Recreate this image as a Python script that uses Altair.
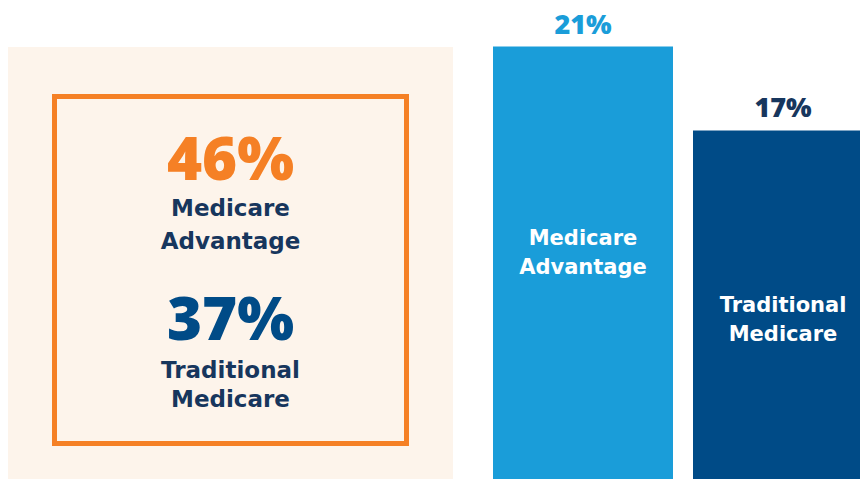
import altair as alt
import pandas as pd

# ---- data ----
groups = ["Medicare Advantage", "Traditional Medicare"]
box_share = [46, 37]          # left highlighted panel
bar_share = [21, 17]          # bars on the right

ORANGE = "#f58025"
BEIGE = "#fdf4eb"
LIGHT_BLUE = "#1a9dd9"
DARK_BLUE = "#004b87"
NAVY = "#17365d"

NUM_FONT = "Open Sans"
TXT_FONT = "DejaVu Sans"

left_df = pd.DataFrame({
    "group": groups,
    "value": box_share,
    "pct": [f"{v}%" for v in box_share],
    "label": [g.replace(" ", "\n") for g in groups],
})
bar_df = pd.DataFrame({
    "group": groups,
    "value": bar_share,
    "pct": [f"{v}%" for v in bar_share],
    "label": [g.replace(" ", "\n") for g in groups],
})

W, H = 852, 471
YMAX = 22.84
CX = 222.5

one = pd.DataFrame({"k": [0]})

# ---- left panel ----
bg = alt.Chart(one).mark_rect(fill=BEIGE).encode(
    x=alt.value(0), x2=alt.value(445), y=alt.value(39), y2=alt.value(479)
)
box = alt.Chart(one).mark_rect(fillOpacity=0, stroke=ORANGE, strokeWidth=5).encode(
    x=alt.value(46.5), x2=alt.value(398.5), y=alt.value(88.5), y2=alt.value(435.5)
)

def left_text(i, field, y, color, font, size, weight, line_h=30):
    return alt.Chart(left_df).transform_filter(
        alt.datum.group == groups[i]
    ).mark_text(
        font=font, fontWeight=weight, fontSize=size, color=color,
        align="center", baseline="alphabetic", lineBreak="\n", lineHeight=line_h
    ).encode(x=alt.value(CX), y=alt.value(y), text=f"{field}:N")

# ---- right bars ----
xenc = alt.X("group:N", sort=groups, axis=None,
             scale=alt.Scale(domain=groups, range=[485, 865],
                             paddingInner=0.1, paddingOuter=0))
yenc = alt.Y("value:Q", axis=None,
             scale=alt.Scale(domain=[0, YMAX], range=[479, 0], nice=False, zero=True))

bars = alt.Chart(bar_df).mark_bar().encode(
    x=xenc, y=yenc,
    color=alt.Color("group:N", legend=None,
                    scale=alt.Scale(domain=groups, range=[LIGHT_BLUE, DARK_BLUE])),
)

def value_label(i, color):
    return alt.Chart(bar_df).transform_filter(
        alt.datum.group == groups[i]
    ).mark_text(
        font=NUM_FONT, fontWeight=800, fontSize=27, color=color,
        align="center", baseline="alphabetic", dy=-13
    ).encode(x=xenc, y=yenc, text="pct:N")

def inner_label(i, y):
    return alt.Chart(bar_df).transform_filter(
        alt.datum.group == groups[i]
    ).mark_text(
        font=TXT_FONT, fontWeight="bold", fontSize=21, color="white",
        align="center", baseline="alphabetic", lineBreak="\n", lineHeight=29
    ).encode(x=xenc, y=alt.value(y), text="label:N")

chart = alt.layer(
    bg, box,
    left_text(0, "pct", 172, ORANGE, NUM_FONT, 60, 800),
    left_text(0, "label", 208, NAVY, TXT_FONT, 23, "bold", 33),
    left_text(1, "pct", 332, DARK_BLUE, NUM_FONT, 60, 800),
    left_text(1, "label", 370, NAVY, TXT_FONT, 23, "bold", 29),
    bars,
    value_label(0, LIGHT_BLUE),
    value_label(1, NAVY),
    inner_label(0, 237),
    inner_label(1, 304),
).properties(
    width=W, height=H, padding=0,
    autosize=alt.AutoSizeParams(type="none"),
).configure_view(stroke=None)

chart.save("out.html", embed_options={"renderer": "svg", "actions": False})
